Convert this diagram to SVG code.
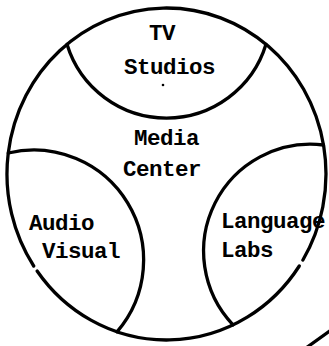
<svg xmlns="http://www.w3.org/2000/svg" width="329" height="346" viewBox="0 0 329 346">
  <style>
    .ln { fill: none; stroke: #000; stroke-width: 3.3; stroke-linecap: round; }
    .tx { font-family: "Liberation Mono", "DejaVu Sans Mono", monospace; font-weight: bold; font-size: 22.5px; letter-spacing: -0.5px; fill: #000; }
  </style>
  <rect x="0" y="0" width="329" height="346" fill="#fff"/>
  <g id="media-center">
    <path class="ln" d="M33.7,266 A159.5,166 0 1,1 302.9,260"/>
    <path class="ln" d="M299.3,266 A159.5,166 0 0,1 37.1,271"/>
    <text class="tx" x="134" y="145">Media</text>
    <text class="tx" x="123" y="176">Center</text>
  </g>
  <g id="tv-studios">
    <path class="ln" d="M67,44.3 A104,104 0 0,0 266,44.3"/>
    <text class="tx" x="149" y="40">TV</text>
    <text class="tx" x="124" y="74">Studios</text>
    <circle cx="163" cy="85" r="1.3" fill="#000"/>
  </g>
  <g id="audio-visual">
    <path class="ln" d="M8.3,153 A110,110 0 0,1 117,331.8"/>
    <text class="tx" x="29" y="230">Audio</text>
    <text class="tx" x="42" y="258">Visual</text>
  </g>
  <g id="language-labs">
    <path class="ln" d="M323.5,145 A107,107 0 0,0 233,324.9"/>
    <text class="tx" x="221" y="228">Language</text>
    <text class="tx" x="221" y="257">Labs</text>
  </g>
  <g id="connectors">
    <line class="ln" x1="306" y1="348" x2="331" y2="330"/>
  </g>
</svg>
